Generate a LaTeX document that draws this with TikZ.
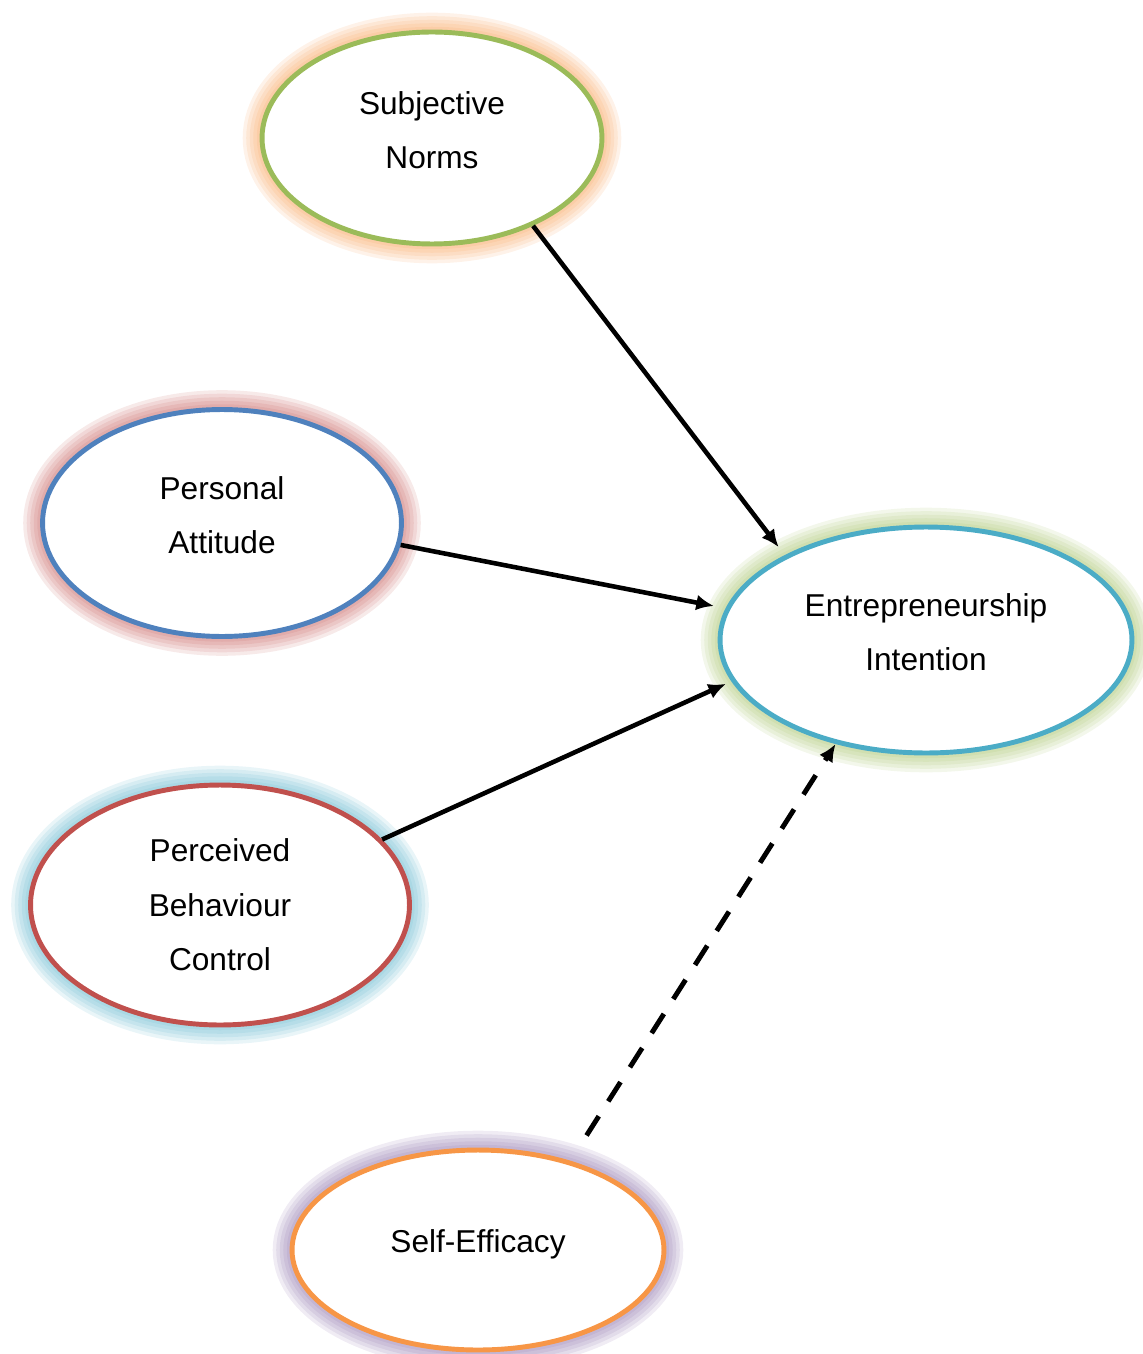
\documentclass[tikz,border=0pt]{standalone}
\usepackage{fontspec}
\setmainfont{Liberation Sans}
\usetikzlibrary{arrows.meta}
\usetikzlibrary{shapes.geometric}

\definecolor{sngreen}{HTML}{9BBB59}
\definecolor{pablue}{HTML}{4F81BD}
\definecolor{pbcred}{HTML}{C0504D}
\definecolor{eicyan}{HTML}{4BACC6}
\definecolor{seorange}{HTML}{F79646}
\definecolor{sepurple}{HTML}{8064A2}

\begin{document}
\begin{tikzpicture}[x=0.02cm,y=-0.02cm,>={Latex[length=10pt,width=9pt]},auto,
  oval node/.style={ellipse,draw,fill=white,line width=2.8pt,inner sep=0pt,align=center,font=\fontsize{18}{31}\selectfont},
  two lines/.style={text height=47pt,text depth=12pt},
  glow/.style={preaction={draw=#1,draw opacity=0.12,line width=22pt},
               preaction={draw=#1,draw opacity=0.12,line width=18pt},
               preaction={draw=#1,draw opacity=0.12,line width=14pt},
               preaction={draw=#1,draw opacity=0.12,line width=10pt},
               preaction={draw=#1,draw opacity=0.12,line width=6pt}},
  link/.style={->,line width=2.6pt}]

  \useasboundingbox (0,0) rectangle (1142,1354);

  \node[oval node,two lines,draw=sngreen,glow=seorange,minimum width=6.8cm,minimum height=4.24cm] (sn) at (432,138) {Subjective\\Norms};
  \node[oval node,two lines,draw=pablue,glow=pbcred,minimum width=7.18cm,minimum height=4.54cm] (pa) at (222,523) {Personal\\Attitude};
  \node[oval node,draw=pbcred,glow=eicyan,minimum width=7.58cm,minimum height=4.8cm] (pbc) at (220,905) {Perceived\\Behaviour\\Control};
  \node[oval node,two lines,draw=eicyan,glow=sngreen,minimum width=8.24cm,minimum height=4.52cm] (ei) at (926,640) {Entrepreneurship\\Intention};
  \node[oval node,text height=11.5pt,text depth=8.5pt,draw=seorange,glow=sepurple,minimum width=7.44cm,minimum height=4cm] (se) at (478,1250) {Self-Efficacy};

  \path (sn.-41) edge [link,shorten >=0.2cm] (ei.149);
  \path (pa.-7) edge [link,shorten >=0.24cm] (ei.171);
  \path (pbc.22) edge [link,shorten >=0.12cm] (ei.192);
  \path (se.44) edge [link,line width=2.8pt,dash pattern=on 13pt off 10pt,shorten <=0.6cm] (ei.229);
\end{tikzpicture}
\end{document}
